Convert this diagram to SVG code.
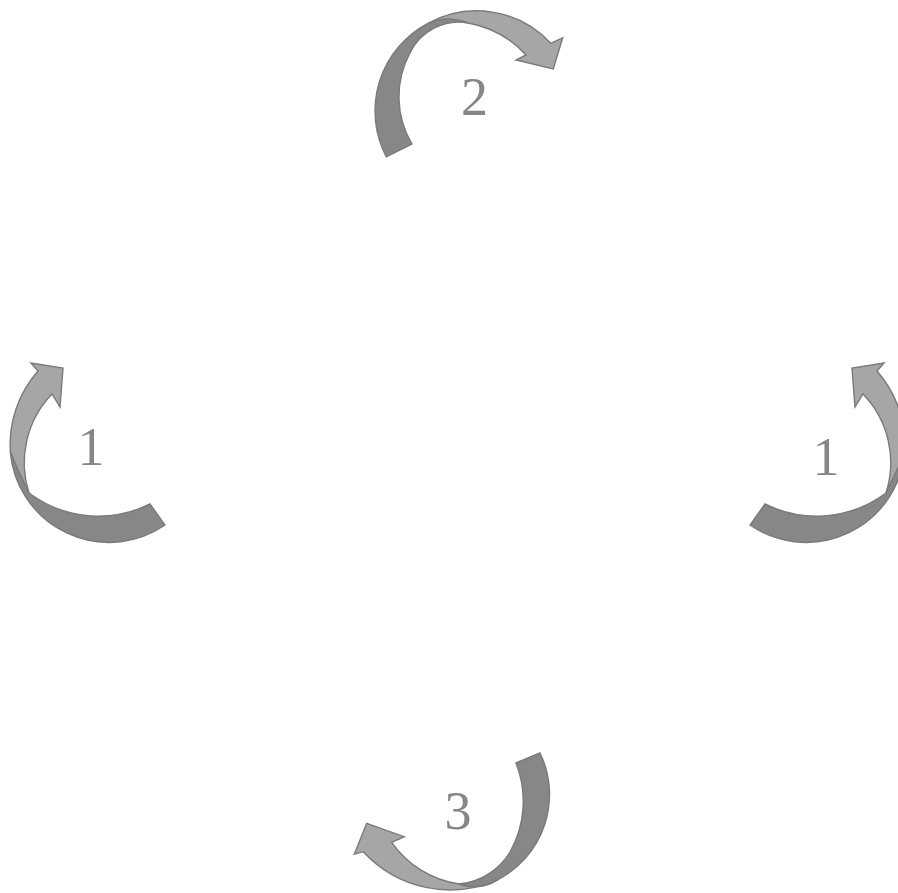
<svg xmlns="http://www.w3.org/2000/svg" width="898" height="893" viewBox="0 0 898 893">
  <style>
    .light { fill: #a6a6a6; stroke: #7a7a7a; stroke-width: 1.4; stroke-linejoin: miter; }
    .dark { fill: #878787; stroke: #7a7a7a; stroke-width: 1.4; stroke-linejoin: miter; }
    .lbl { font-family: "Liberation Serif", "Times New Roman", serif; font-size: 54px; fill: #868686; text-anchor: middle; }
  </style>
  <rect width="898" height="893" fill="#ffffff"/>

  <g id="arrow-2">
    <path class="light" d="M 427.5,23.6 A 101 101 0 0 1 550.7,43.3 L 562.7,37.7 L 553.3,69 L 516,60 L 526,55 A 103 103 0 0 0 468,23 Q 447,15 427.5,23.6 Z"/>
    <path class="dark" d="M 386.3,156.9 A 99 99 0 0 1 427.5,23.6 Q 447,15 468,23 A 54 54 0 0 0 410,53 A 92 92 0 0 0 412,144 Z"/>
    <text class="lbl" x="474.5" y="115">2</text>
  </g>

  <g id="arrow-1-left">
    <path class="light" d="M 38,371 L 31,363 L 63,368 L 60,407 L 52,394 A 99 99 0 0 0 29,493 Q 19,474 10.3,452 A 112 112 0 0 1 38,371 Z"/>
    <path class="dark" d="M 10.3,452 A 99 99 0 0 0 165,525 L 150,504 A 116 116 0 0 1 29,493 Q 19,474 10.3,452 Z"/>
    <text class="lbl" x="91" y="465">1</text>
  </g>

  <g id="arrow-1-right">
    <g transform="matrix(-1 0 0 1 915 0)">
      <path class="light" d="M 38,371 L 31,363 L 63,368 L 60,407 L 52,394 A 99 99 0 0 0 29,493 Q 19,474 10.3,452 A 112 112 0 0 1 38,371 Z"/>
      <path class="dark" d="M 10.3,452 A 99 99 0 0 0 165,525 L 150,504 A 116 116 0 0 1 29,493 Q 19,474 10.3,452 Z"/>
    </g>
    <text class="lbl" x="826" y="475">1</text>
  </g>

  <g id="arrow-3">
    <path class="light" d="M 497.6,879.9 A 118 118 0 0 1 363.3,851.7 L 354.3,854.3 L 366.7,823.3 L 404.3,836.7 L 391.7,842.3 A 100 100 0 0 0 459,884 Q 479,891 497.6,879.9 Z"/>
    <path class="dark" d="M 540,753 A 96 96 0 0 1 497.6,879.9 Q 479,891 459,884 A 67 67 0 0 0 510,852 A 104 104 0 0 0 516,763 Z"/>
    <text class="lbl" x="458" y="829">3</text>
  </g>
</svg>
